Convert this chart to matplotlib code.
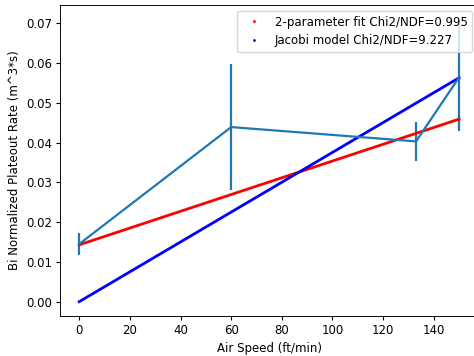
import matplotlib.pyplot as plt
from matplotlib.lines import Line2D

# measured points
air_speed = [0, 60, 133, 150]
rate = [0.0145, 0.0439, 0.0403, 0.0564]
rate_err = [0.0028, 0.0158, 0.005, 0.0134]

# fit lines (end points)
fit_x = [0, 150]
fit2_y = [0.0143, 0.0459]
jacobi_y = [0.0, 0.0563]

labels = ['2-parameter fit Chi2/NDF=0.995', 'Jacobi model Chi2/NDF=9.227']

# original was rendered larger and shrunk, so scale sizes down a bit
s = 0.843
plt.rcParams['font.size'] = 10 * s
plt.rcParams['xtick.major.size'] = 3.5 * s
plt.rcParams['ytick.major.size'] = 3.5 * s
plt.rcParams['xtick.major.pad'] = 3.5 * s
plt.rcParams['ytick.major.pad'] = 3.5 * s
plt.rcParams['axes.labelpad'] = 4 * s
plt.rcParams['axes.linewidth'] = 0.8 * s

fig = plt.figure(figsize=(4.74, 3.56), dpi=100)
ax = fig.add_axes([0.1266, 0.1124, 0.882, 0.8736])

ax.errorbar(air_speed, rate, yerr=rate_err, color='tab:blue', linewidth=1.6, elinewidth=1.6)
ax.plot(fit_x, fit2_y, color='red', linewidth=2)
ax.plot(fit_x, jacobi_y, color='blue', linewidth=2)

ax.set_xlim(-7.6, 157.5)
ax.set_ylim(-0.0036, 0.0746)
ax.set_xticks(range(0, 141, 20))

handles = [Line2D([], [], color='red', marker='.', linestyle='', markersize=2),
           Line2D([], [], color='blue', marker='.', linestyle='', markersize=2)]
ax.legend(handles, labels, loc='upper right')

ax.set_xlabel('Air Speed (ft/min)')
ax.set_ylabel('Bi Normalized Plateout Rate (m^3*s)')

fig.savefig('out.png', dpi=100)
